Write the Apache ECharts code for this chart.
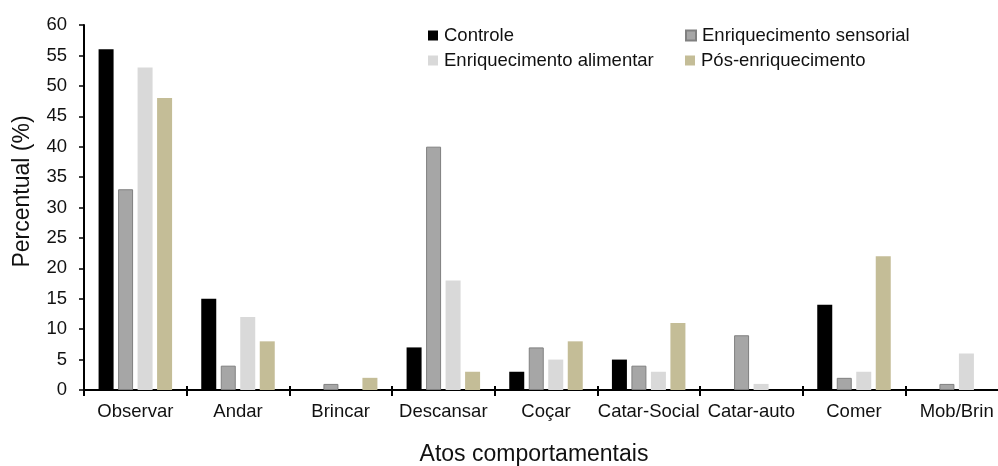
<!DOCTYPE html>
<html>
<head>
<meta charset="utf-8">
<script src="https://cdn.jsdelivr.net/npm/echarts@6/dist/echarts.min.js"></script>
<style>
html,body{margin:0;padding:0;background:#fff;}
#chart{width:998px;height:466px;}
</style>
</head>
<body>
<div id="chart"></div>
<script>
const categories = ['Observar','Andar','Brincar','Descansar','Coçar','Catar-Social','Catar-auto','Comer','Mob/Brin'];
const seriesNames = ['Controle','Enriquecimento sensorial','Enriquecimento alimentar','Pós-enriquecimento'];
const controle    = [56, 15, 0, 7, 3, 5, 0, 14, 0];
const sensorial   = [33, 4, 1, 40, 7, 4, 9, 2, 1];
const alimentar   = [53, 12, 0, 18, 5, 3, 1, 3, 6];
const posEnriq    = [48, 8, 2, 3, 8, 11, 0, 22, 0];
const yTicks = [0,5,10,15,20,25,30,35,40,45,50,55,60];

const values = [controle, sensorial, alimentar, posEnriq];
const colors = ['#000000','#a6a6a6','#d9d9d9','#c4bd97'];
const borders = [null,'#808080',null,null];
const FONT = 'Liberation Sans, Arial, sans-serif';
const FS = 18.5;

const chart = echarts.init(document.getElementById('chart'));
const legendPos = [
  {left:428, top:26},
  {left:685, top:26},
  {left:428, top:51},
  {left:685, top:51}
];
const option = {
  animation:false,
  textStyle:{fontFamily:FONT},
  legend: seriesNames.map((n,i)=>({
    data:[n], left:legendPos[i].left, top:legendPos[i].top, padding:0,
    icon:'rect', itemWidth:10, itemHeight:10, itemGap:6,
    textStyle:{fontFamily:FONT, fontSize:FS, color:'#111', padding:[0,0,0,1]}
  })),
  grid:{left:84, top:25, width:924, bottom:76, containLabel:false, outerBoundsMode:'none'},
  xAxis:[{
    type:'category', data:categories,
    axisLine:{lineStyle:{color:'#000', width:2}},
    axisTick:{show:true, length:6, lineStyle:{color:'#000', width:2}},
    axisLabel:{fontFamily:FONT, fontSize:FS, color:'#111', margin:12, interval:0},
    name:'Atos comportamentais', nameLocation:'middle', nameGap:53,
    nameTextStyle:{fontFamily:FONT, fontSize:23, color:'#111', padding:[0,24,0,0]}
  },{
    type:'category', data:categories, position:'bottom',
    axisLine:{show:false},
    axisTick:{show:true, inside:true, length:4, lineStyle:{color:'#000', width:2}},
    axisLabel:{show:false}
  }],
  yAxis:{
    type:'value', min:yTicks[0], max:yTicks[yTicks.length-1], interval:5,
    axisLine:{show:true, lineStyle:{color:'#000', width:2}},
    axisTick:{show:true, length:5, lineStyle:{color:'#000', width:1.5}},
    splitLine:{show:false},
    axisLabel:{fontFamily:FONT, fontSize:FS, color:'#111', margin:17},
    name:'Percentual (%)', nameLocation:'middle', nameGap:50, nameRotate:90,
    nameTextStyle:{fontFamily:FONT, fontSize:23, color:'#111', padding:[0,0,0,32]}
  },
  series: seriesNames.map((n,i)=>({
    name:n, type:'bar', data:values[i], barWidth:15, barGap:'30%', xAxisIndex:0,
    itemStyle:{color:colors[i], borderColor:borders[i]||colors[i], borderWidth:borders[i]?1:0}
  }))
};
chart.setOption(option);
</script>
</body>
</html>
